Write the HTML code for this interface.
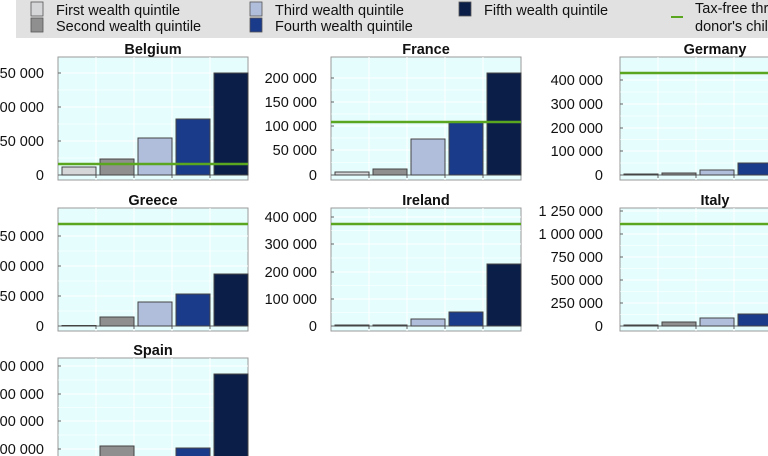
<!DOCTYPE html>
<html><head><meta charset="utf-8"><style>
html,body{margin:0;width:768px;height:456px;overflow:hidden;background:#fff;font-family:"Liberation Sans",Arial,sans-serif}
svg{position:absolute;left:0;top:0;display:block}
</style></head><body>
<svg id="s" width="768" height="456" viewBox="0 0 768 456" xmlns="http://www.w3.org/2000/svg" font-family="Liberation Sans, Arial, sans-serif"></svg>
<script>
var s=document.getElementById('s'),h='';
var C=['#d4d6d8','#8f8f8f','#b0bedc','#1a3a8a','#0b1e48'];
h+='<rect x="16" y="0" width="752" height="38" fill="#e1e1e1"/>';
function sw(x,y,c){h+='<rect x="'+x+'" y="'+y+'" width="12" height="14" fill="'+c+'" stroke="#555" stroke-width="0.8"/>';}
function tx(x,y,t,a,extra){h+='<text x="'+x+'" y="'+y+'" font-size="14.5" fill="#111" text-anchor="'+(a||'start')+'" '+(extra||'')+'>'+t+'</text>';}
sw(31,2,C[0]);tx(56,15,'First wealth quintile');
sw(31,18,C[1]);tx(56,31,'Second wealth quintile');
sw(250,2,C[2]);tx(275,15,'Third wealth quintile');
sw(250,18,C[3]);tx(275,31,'Fourth wealth quintile');
sw(459,2,C[4]);tx(484,15,'Fifth wealth quintile');
h+='<line x1="671" y1="17" x2="683" y2="17" stroke="#5aa61e" stroke-width="2"/>';
tx(695,13,'Tax-free threshold');tx(695,31,"donor's children");
function panel(x0,y0,y1,zero,title,ticks,labels,lx,bars,green){
 var w=190;
 h+='<rect x="'+x0+'" y="'+y0+'" width="'+w+'" height="'+(y1-y0)+'" fill="#e6fdfd" stroke="#999" stroke-width="1"/>';
 for(var i=1;i<5;i++){var gx=x0+i*w/5;h+='<line x1="'+gx+'" y1="'+y0+'" x2="'+gx+'" y2="'+y1+'" stroke="#fff" stroke-width="1"/>';h+='<line x1="'+gx+'" y1="'+zero+'" x2="'+gx+'" y2="'+Math.min(zero+3,y1)+'" stroke="#666"/>';}
 for(var i=0;i<ticks.length;i++){var ty=ticks[i];h+='<line x1="'+x0+'" y1="'+ty+'" x2="'+(x0+w)+'" y2="'+ty+'" stroke="#fff" stroke-width="1"/>';
  if(i+1<ticks.length){var m=(ty+ticks[i+1])/2;h+='<line x1="'+x0+'" y1="'+m+'" x2="'+(x0+w)+'" y2="'+m+'" stroke="#fff" stroke-width="0.6"/>';}
  h+='<line x1="'+x0+'" y1="'+ty+'" x2="'+(x0+3)+'" y2="'+ty+'" stroke="#666"/>';
  if(ty+5<456)tx(lx,ty+5,labels[i],'end');}
 if(zero<456)h+='<line x1="'+x0+'" y1="'+zero+'" x2="'+(x0+w)+'" y2="'+zero+'" stroke="#666" stroke-width="1"/>';
 for(var i=0;i<bars.length;i++){if(bars[i]==null)continue;var bx=x0+4+i*w/5,t=Math.min(bars[i],zero-0.5);
  var bot=Math.min(zero,457);if(t>=bot)continue;
  h+='<rect x="'+bx+'" y="'+t+'" width="34" height="'+(bot-t)+'" fill="'+C[i]+'" stroke="#444" stroke-width="1"/>';}
 if(green)h+='<line x1="'+x0+'" y1="'+green+'" x2="'+(x0+w)+'" y2="'+green+'" stroke="#5aa61e" stroke-width="2.5"/>';
 tx(x0+w/2,y0-3,title,'middle','font-weight="bold" font-size="14.5"');
}
panel(58,57,180,175,'Belgium',[175,141,107,73],['0','50 000','00 000','50 000'],44,[167,159,138,119,73],164);
panel(331,57,180,175,'France',[175,150,126,102,78],['0','50 000','100 000','150 000','200 000'],317,[172,169,139,122,73],122);
panel(620,57,180,175,'Germany',[175,151,128,104,80],['0','100 000','200 000','300 000','400 000'],603,[174,173,170,163,20],73);
panel(58,208,331,326,'Greece',[326,296,266,236],['0','50 000','00 000','50 000'],44,[325.5,317,302,294,274],224);
panel(331,208,331,326,'Ireland',[326,299,272,244,217],['0','100 000','200 000','300 000','400 000'],317,[325,325,319,312,264],224);
panel(620,208,331,326,'Italy',[326,303,280,257,234,211],['0','250 000','500 000','750 000','1 000 000','1 250 000'],603,[325,322,318,314,300],224);
panel(58,358,457,476,'Spain',[449,421,394,366],['00 000','00 000','00 000','00 000'],44,[470,446,470,448,374],null);
s.innerHTML=h;
</script>
</body></html>
